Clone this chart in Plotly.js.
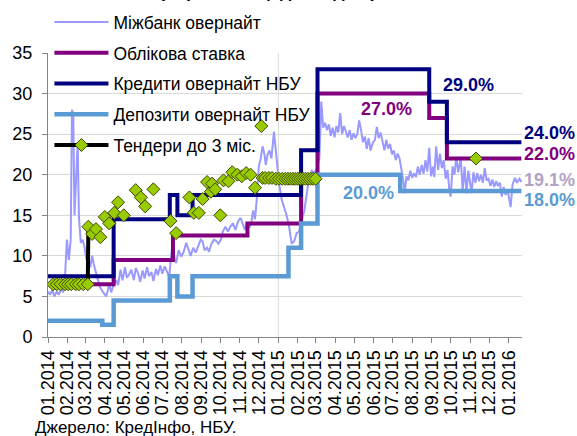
<!DOCTYPE html>
<html>
<head>
<meta charset="utf-8">
<script src="https://cdn.plot.ly/plotly-3.0.1.min.js"></script>
<style>html,body{margin:0;padding:0;background:#fff;}#chart{width:577px;height:436px;}</style>
</head>
<body>
<div id="chart"></div>
<script>
// ---- Data ----
const seriesNames = ['Міжбанк овернайт', 'Облікова ставка', 'Кредити овернайт НБУ', 'Депозити овернайт НБУ', 'Тендери до 3 міс.'];

const ibDates = ['2014-01-01','2014-01-04','2014-01-08','2014-01-11','2014-01-15','2014-01-18','2014-01-22','2014-01-25','2014-01-28','2014-01-31',
'2014-02-03','2014-02-06','2014-02-08','2014-02-10','2014-02-12','2014-02-15','2014-02-17','2014-02-19','2014-02-22','2014-02-25','2014-02-28',
'2014-03-03','2014-03-06','2014-03-09','2014-03-12','2014-03-15','2014-03-18','2014-03-21','2014-03-24','2014-03-27','2014-03-31',
'2014-04-03','2014-04-06','2014-04-08','2014-04-11','2014-04-14','2014-04-19','2014-04-22','2014-04-26','2014-04-29',
'2014-05-03','2014-05-06','2014-05-10','2014-05-13','2014-05-17','2014-05-20','2014-05-24','2014-05-27','2014-05-31',
'2014-06-03','2014-06-07','2014-06-10','2014-06-14','2014-06-17','2014-06-21','2014-06-24','2014-06-28',
'2014-07-01','2014-07-05','2014-07-09','2014-07-12','2014-07-16','2014-07-19','2014-07-23','2014-07-27','2014-07-31',
'2014-08-04','2014-08-08','2014-08-11','2014-08-15','2014-08-19','2014-08-23','2014-08-27','2014-08-31',
'2014-09-03','2014-09-06','2014-09-10','2014-09-13','2014-09-17','2014-09-21','2014-09-25','2014-09-28',
'2014-10-02','2014-10-05','2014-10-09','2014-10-13','2014-10-17','2014-10-21','2014-10-25','2014-10-29',
'2014-11-02','2014-11-05','2014-11-09','2014-11-12','2014-11-16','2014-11-19','2014-11-22','2014-11-25','2014-11-28',
'2014-12-01','2014-12-04','2014-12-07','2014-12-10','2014-12-12','2014-12-15','2014-12-18','2014-12-21','2014-12-25','2014-12-27','2014-12-29',
'2015-01-02','2015-01-06','2015-01-10','2015-01-14','2015-01-18','2015-01-22','2015-01-26','2015-01-30',
'2015-02-03','2015-02-07','2015-02-11','2015-02-15','2015-02-19','2015-02-23','2015-02-27',
'2015-03-03','2015-03-07','2015-03-10','2015-03-13','2015-03-16','2015-03-19','2015-03-22','2015-03-25','2015-03-28','2015-03-31',
'2015-04-03','2015-04-06','2015-04-09','2015-04-12','2015-04-15','2015-04-18','2015-04-21','2015-04-24','2015-04-27','2015-04-30',
'2015-05-03','2015-05-06','2015-05-09','2015-05-12','2015-05-15','2015-05-18','2015-05-21','2015-05-24','2015-05-27','2015-05-31',
'2015-06-03','2015-06-06','2015-06-09','2015-06-12','2015-06-15','2015-06-18','2015-06-21','2015-06-24','2015-06-27','2015-06-30',
'2015-07-03','2015-07-06','2015-07-09','2015-07-12','2015-07-15','2015-07-18','2015-07-20','2015-07-23','2015-07-26','2015-07-29',
'2015-08-01','2015-08-04','2015-08-07','2015-08-10','2015-08-13','2015-08-16','2015-08-19','2015-08-22','2015-08-25','2015-08-28','2015-08-31',
'2015-09-03','2015-09-05','2015-09-08','2015-09-11','2015-09-14','2015-09-17','2015-09-20','2015-09-23','2015-09-26','2015-09-29',
'2015-10-01','2015-10-04','2015-10-07','2015-10-10','2015-10-13','2015-10-17','2015-10-20','2015-10-23','2015-10-26','2015-10-29',
'2015-11-01','2015-11-03','2015-11-06','2015-11-09','2015-11-12','2015-11-15','2015-11-18','2015-11-21','2015-11-24','2015-11-27','2015-11-30',
'2015-12-03','2015-12-06','2015-12-09','2015-12-12','2015-12-15','2015-12-18','2015-12-21','2015-12-24','2015-12-27','2015-12-30',
'2016-01-04','2016-01-07','2016-01-11','2016-01-14','2016-01-18','2016-01-21'];
const ibValues = [5.6,5.2,5.8,5.0,5.6,5.2,6.0,5.5,7.5,12.0,
9.5,12.0,28.0,27.5,15.0,22.0,24.0,14.8,11.6,12.0,11.0,
9.5,10.0,8.6,10.0,8.8,7.9,7.0,6.2,5.8,5.4,
5.0,5.8,6.6,5.5,6.2,7.0,6.4,8.3,7.0,
8.6,7.3,7.8,8.3,7.0,8.5,7.8,6.8,8.2,
7.2,8.6,7.5,8.0,6.9,8.4,7.6,8.8,
7.8,8.7,7.8,7.4,10.7,10.2,9.1,10.7,9.9,
10.5,11.6,11.0,10.0,11.0,10.4,11.2,12.0,
11.8,10.7,11.0,10.5,11.5,12.0,11.8,11.5,
12.0,13.0,13.6,13.0,13.6,14.0,13.2,14.2,
14.7,14.0,13.2,14.0,13.5,14.0,15.6,14.5,17.2,
21.0,22.0,23.5,22.5,21.2,22.5,23.0,22.0,25.3,23.5,22.0,
19.0,17.0,16.0,15.0,13.6,11.5,11.8,12.8,
13.0,14.5,15.5,18.0,19.8,20.5,20.2,
20.8,22.0,29.0,25.8,26.4,25.5,26.2,24.8,25.8,24.6,
26.0,25.2,27.6,25.0,26.0,25.2,24.6,25.5,24.3,25.1,
24.5,25.0,26.7,25.5,24.0,24.7,23.2,24.5,23.0,24.0,
24.3,25.9,24.5,25.2,24.0,23.0,24.3,23.2,23.8,22.5,
23.0,21.8,22.6,22.0,20.6,19.2,17.7,19.8,19.3,20.5,
19.6,20.2,19.7,21.0,20.0,21.2,20.1,21.8,20.4,23.3,19.8,
21.0,19.7,23.5,20.6,22.6,20.8,21.8,19.5,20.6,18.0,
17.3,21.0,20.0,22.2,20.3,22.1,18.0,21.0,17.7,20.5,
18.5,17.7,20.3,19.0,20.2,19.2,20.0,19.0,20.8,19.3,19.5,
18.6,19.4,18.5,19.2,18.6,19.0,17.3,18.5,17.5,18.2,
16.0,18.8,19.6,19.0,19.5,19.1];

const discountDates = ['2014-01-01','2014-04-15','2014-07-18','2014-11-13','2015-02-06','2015-03-04','2015-08-28','2015-09-25','2016-01-21'];
const discountValues = [6.5, 9.5, 12.5, 14, 19.5, 30, 27, 22, 22];

const creditDates = ['2014-01-01','2014-04-15','2014-07-13','2014-07-25','2014-08-18','2015-02-06','2015-03-04','2015-08-28','2015-09-25','2016-01-21'];
const creditValues = [7.5, 14.5, 17.5, 15, 17.5, 23, 33, 29, 24, 24];

const depositDates = ['2014-01-01','2014-03-28','2014-04-15','2014-07-13','2014-07-25','2014-08-18','2015-01-17','2015-02-06','2015-03-04','2015-07-13','2016-01-21'];
const depositValues = [2, 1.5, 4.5, 7.5, 5, 7.5, 11, 14, 20, 18, 18];

// consecutive tenders (connected by the black line)
const tenderRunDates = ['2014-01-09','2014-01-15','2014-01-21','2014-01-28','2014-02-02','2014-02-07','2014-02-14','2014-02-19','2014-02-26','2014-03-05','2014-03-06'];
const tenderRunValues = [6.5,6.5,6.5,6.5,6.5,6.5,6.5,6.5,6.5,6.5,13.6];
// isolated tenders
const tenderDotDates = ['2014-03-12','2014-03-18','2014-03-25','2014-04-01','2014-04-08','2014-04-16','2014-04-22','2014-05-01','2014-05-20','2014-05-28',
'2014-06-04','2014-06-17','2014-07-14','2014-07-23','2014-08-13','2014-08-20','2014-08-28','2014-09-03','2014-09-10','2014-09-16',
'2014-09-18','2014-09-23','2014-10-01','2014-10-06','2014-10-14','2014-10-20','2014-10-28','2014-11-04','2014-11-11','2014-11-18',
'2014-11-25','2014-12-05','2014-12-07','2014-12-11','2014-12-17','2014-12-22','2014-12-28','2015-01-02','2015-01-07','2015-01-12',
'2015-01-16','2015-01-20','2015-01-24','2015-01-28','2015-02-01','2015-02-05','2015-02-09','2015-02-13','2015-02-17','2015-02-21',
'2015-02-25','2015-03-01','2015-11-10'];
const tenderDotValues = [12.7,13.3,12.3,14.8,14.0,15.3,16.6,15.0,18.1,17.2,
16.1,18.2,14.3,12.8,17.2,15.3,15.3,17.0,19.1,17.9,
18.9,18.2,15.0,19.3,19.2,20.3,20.0,19.8,20.2,20.0,
18.4,26.0,19.6,19.6,19.6,19.6,19.5,19.5,19.5,19.5,
19.5,19.5,19.5,19.5,19.5,19.5,19.5,19.5,19.5,19.5,
19.5,19.5,22.0];

const xTickFormat = '%m.%Y';
const sourceText = 'Джерело: КредІнфо, НБУ.';
const titleText = '(% річних, щоденні дані)';

// ---- Build tender trace with gaps ----
const tX = tenderRunDates.slice(), tY = tenderRunValues.slice();
tenderDotDates.forEach((d, i) => { tX.push(d); tY.push(null); tX.push(d); tY.push(tenderDotValues[i]); });

const FONT = 'Liberation Sans, Arial, sans-serif';
const C = {ib:'#9999FF', disc:'#800080', cred:'#000080', dep:'#5B9BD5', ibLabel:'#B3A2C7'};

const traces = [
  {x: ibDates, y: ibValues, name: seriesNames[0], type:'scatter', mode:'lines', legendgroup:'a',
   line:{color:C.ib, width:2}},
  {x: discountDates, y: discountValues, name: seriesNames[1], type:'scatter', mode:'lines', legendgroup:'b',
   line:{color:C.disc, width:4, shape:'hv'}},
  {x: creditDates, y: creditValues, name: seriesNames[2], type:'scatter', mode:'lines', legendgroup:'c',
   line:{color:C.cred, width:4, shape:'hv'}},
  {x: depositDates, y: depositValues, name: seriesNames[3], type:'scatter', mode:'lines', legendgroup:'d',
   line:{color:C.dep, width:4.5, shape:'hv'}},
  {x: tX, y: tY, name: seriesNames[4], type:'scatter', mode:'lines+markers', legendgroup:'e', connectgaps:false,
   line:{color:'#000000', width:4},
   marker:{symbol:'diamond', size:10, color:'#99CC00', line:{color:'#404800', width:1}}}
];

const last = a => a[a.length-1];
const pct = v => v.toFixed(1) + '%';
const lab = (x, xref, y, text, color, xanchor) => ({x, y, xref, yref:'y', text, showarrow:false,
  xanchor: xanchor || 'left', yanchor:'middle', font:{family:FONT, size:18, color, weight:'bold'}});

const annotations = [
  lab(1.0, 'paper', 25.2, pct(last(creditValues)), C.cred),
  lab(1.0, 'paper', 22.6, pct(last(discountValues)), C.disc),
  lab(1.0, 'paper', 19.35, pct(last(ibValues)), C.ibLabel),
  lab(1.0, 'paper', 16.9, pct(last(depositValues)), C.dep),
  lab('2015-10-30', 'x', 31.05, pct(creditValues[7]), C.cred, 'center'),
  lab('2015-06-22', 'x', 28.06, pct(discountValues[6]), C.disc, 'center'),
  lab('2015-05-24', 'x', 17.7, pct(depositValues[8]), C.dep, 'center'),
  {x:-0.0316, y:-0.3204, xref:'paper', yref:'paper', text:sourceText, showarrow:false, xanchor:'left', yanchor:'middle',
   font:{family:FONT, size:17, color:'#000'}},
  {x:0.465, y:1.217, xref:'paper', yref:'paper', text:titleText, showarrow:false, xanchor:'center', yanchor:'middle',
   font:{family:FONT, size:18, color:'#000', weight:'bold'}}
];

const layout = {
  width:577, height:436,
  margin:{l:48, r:55, t:53, b:99, autoexpand:false},
  paper_bgcolor:'#fff', plot_bgcolor:'#fff',
  font:{family:FONT, size:17.5, color:'#000'},
  showlegend:true,
  legend:{x:0.003, xanchor:'left', y:1.172, yanchor:'top', bgcolor:'rgba(0,0,0,0)',
    traceorder:'grouped', tracegroupgap:5, font:{family:FONT, size:17.5, color:'#000'}, itemwidth:54},
  xaxis:{type:'date', range:['2014-01-01','2016-01-22'], tick0:'2014-01-01', dtick:'M1', tickformat:xTickFormat,
    tickangle:-90, ticks:'outside', ticklen:5, tickcolor:'#868686', showgrid:false, zeroline:false,
    showline:true, linecolor:'#868686', linewidth:1, tickfont:{family:FONT, size:18, color:'#000'}, fixedrange:true},
  yaxis:{range:[0,35], dtick:5, tick0:0, ticks:'outside', ticklen:5, tickcolor:'#868686', showgrid:true,
    gridcolor:'#D9D9D9', zeroline:false, showline:true, linecolor:'#868686', linewidth:1,
    tickfont:{family:FONT, size:18, color:'#000'}, ticklabelstandoff:6, fixedrange:true},
  shapes:[{type:'line', xref:'x', yref:'y', x0:'2015-01-01', x1:'2015-01-01', y0:0, y1:35,
    line:{color:'#D9D9D9', width:1}, layer:'below'}],
  annotations
};

Plotly.newPlot('chart', traces, layout, {staticPlot:true, displayModeBar:false});
</script>
</body>
</html>
